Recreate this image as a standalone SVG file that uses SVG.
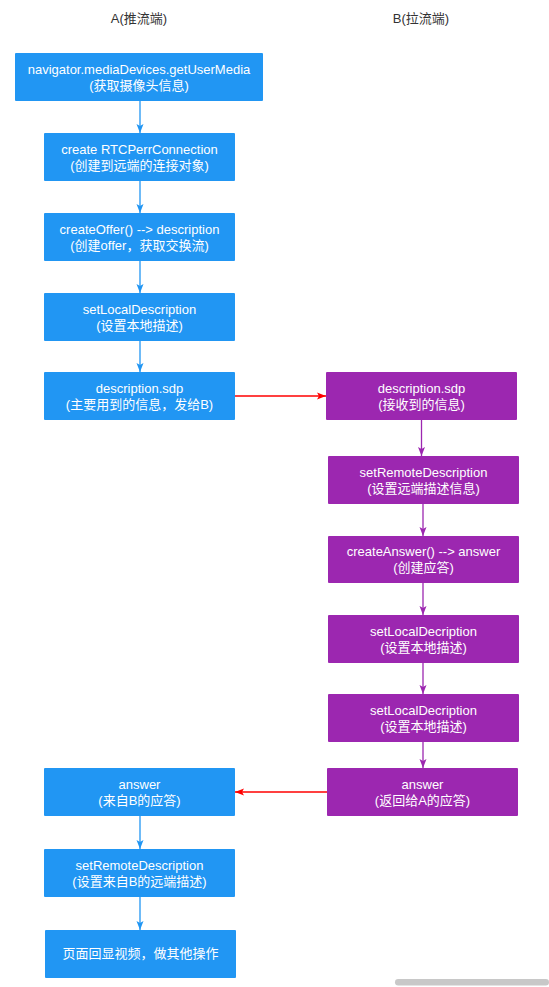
<svg xmlns="http://www.w3.org/2000/svg" width="549" height="987" viewBox="0 0 549 987">
<style>
.a{fill:#2196F3}
.b{fill:#9C27B0}
.t{font-family:"Liberation Sans","Noto Sans CJK SC",sans-serif;font-size:13px;fill:#FFFFFF;text-anchor:middle}
.h{font-family:"Liberation Sans","Noto Sans CJK SC",sans-serif;font-size:13px;fill:#333333;text-anchor:middle}
.la{stroke:#2196F3;stroke-width:1.3;fill:none}
.lb{stroke:#9C27B0;stroke-width:1.3;fill:none}
.lr{stroke:#FF0000;stroke-width:1.3;fill:none}
</style>
<defs>
<marker id="ma" markerUnits="userSpaceOnUse" markerWidth="12" markerHeight="10" refX="9" refY="4" orient="auto"><path d="M0,0.5 L9,4 L0,7.5 L2,4 z" fill="#2196F3"/></marker>
<marker id="mb" markerUnits="userSpaceOnUse" markerWidth="12" markerHeight="10" refX="9" refY="4" orient="auto"><path d="M0,0.5 L9,4 L0,7.5 L2,4 z" fill="#9C27B0"/></marker>
<marker id="mr" markerUnits="userSpaceOnUse" markerWidth="12" markerHeight="10" refX="9" refY="4" orient="auto"><path d="M0,0.5 L9,4 L0,7.5 L2,4 z" fill="#FF0000"/></marker>
</defs>
<rect width="549" height="987" fill="#FFFFFF"/>
<text class="h" x="139" y="23">A(推流端)</text>
<text class="h" x="421" y="23">B(拉流端)</text>
<g id="connectors">
<path class="la" d="M140,101 V133" marker-end="url(#ma)"/>
<path class="la" d="M140,181 V213" marker-end="url(#ma)"/>
<path class="la" d="M140,261 V293" marker-end="url(#ma)"/>
<path class="la" d="M140,341 V372" marker-end="url(#ma)"/>
<path class="lr" d="M235,396 H326" marker-end="url(#mr)"/>
<path class="lb" d="M421.5,420 V456" marker-end="url(#mb)"/>
<path class="lb" d="M423,504 V536" marker-end="url(#mb)"/>
<path class="lb" d="M423,583 V615" marker-end="url(#mb)"/>
<path class="lb" d="M423,663 V694" marker-end="url(#mb)"/>
<path class="lb" d="M423,742 V768" marker-end="url(#mb)"/>
<path class="lr" d="M327,792 H235" marker-end="url(#mr)"/>
<path class="la" d="M140,816 V849" marker-end="url(#ma)"/>
<path class="la" d="M140,897 V930" marker-end="url(#ma)"/>
</g>
<g id="a1"><rect class="a" x="15" y="53" width="248" height="48" rx="1"/><text class="t" x="139" y="74">navigator.mediaDevices.getUserMedia</text><text class="t" x="139" y="90">(获取摄像头信息)</text></g>
<g id="a2"><rect class="a" x="44" y="133" width="191" height="48" rx="1"/><text class="t" x="139.5" y="154">create RTCPerrConnection</text><text class="t" x="139.5" y="170">(创建到远端的连接对象)</text></g>
<g id="a3"><rect class="a" x="44" y="213" width="191" height="48" rx="1"/><text class="t" x="139.5" y="234">createOffer() --&gt; description</text><text class="t" x="139.5" y="250">(创建offer，获取交换流)</text></g>
<g id="a4"><rect class="a" x="44" y="293" width="191" height="48" rx="1"/><text class="t" x="139.5" y="314">setLocalDescription</text><text class="t" x="139.5" y="330">(设置本地描述)</text></g>
<g id="a5"><rect class="a" x="44" y="372" width="191" height="48" rx="1"/><text class="t" x="139.5" y="393">description.sdp</text><text class="t" x="139.5" y="409">(主要用到的信息，发给B)</text></g>
<g id="b1"><rect class="b" x="326" y="372" width="191" height="48" rx="1"/><text class="t" x="421.5" y="393">description.sdp</text><text class="t" x="421.5" y="409">(接收到的信息)</text></g>
<g id="b2"><rect class="b" x="328" y="456" width="191" height="48" rx="1"/><text class="t" x="423.5" y="477">setRemoteDescription</text><text class="t" x="423.5" y="493">(设置远端描述信息)</text></g>
<g id="b3"><rect class="b" x="328" y="536" width="191" height="47" rx="1"/><text class="t" x="423.5" y="556">createAnswer() --&gt; answer</text><text class="t" x="423.5" y="572">(创建应答)</text></g>
<g id="b4"><rect class="b" x="328" y="615" width="191" height="48" rx="1"/><text class="t" x="423.5" y="636">setLocalDecription</text><text class="t" x="423.5" y="652">(设置本地描述)</text></g>
<g id="b5"><rect class="b" x="328" y="694" width="191" height="48" rx="1"/><text class="t" x="423.5" y="715">setLocalDecription</text><text class="t" x="423.5" y="731">(设置本地描述)</text></g>
<g id="b6"><rect class="b" x="327" y="768" width="191" height="48" rx="1"/><text class="t" x="422.5" y="789">answer</text><text class="t" x="422.5" y="805">(返回给A的应答)</text></g>
<g id="a6"><rect class="a" x="44" y="768" width="191" height="48" rx="1"/><text class="t" x="139.5" y="789">answer</text><text class="t" x="139.5" y="805">(来自B的应答)</text></g>
<g id="a7"><rect class="a" x="44" y="849" width="191" height="48" rx="1"/><text class="t" x="139.5" y="870">setRemoteDescription</text><text class="t" x="139.5" y="886">(设置来自B的远端描述)</text></g>
<g id="a8"><rect class="a" x="45" y="930" width="191" height="48" rx="1"/><text class="t" x="140.5" y="958">页面回显视频，做其他操作</text></g>
<rect x="395" y="979" width="154" height="6.5" rx="3.2" fill="#C8C8C8"/>
</svg>
